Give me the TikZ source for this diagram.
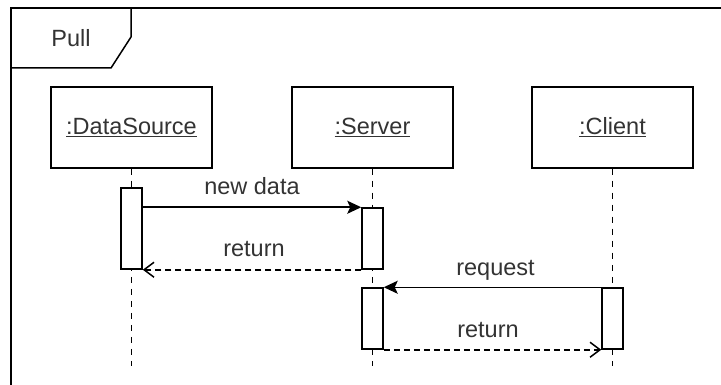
\documentclass[tikz,border=0pt]{standalone}
\usepackage{fontspec}
\setmainfont{Liberation Sans}
\usetikzlibrary{arrows.meta}
\begin{document}
\begin{tikzpicture}[x=1pt,y=-1pt,
  line width=1.5pt,
  every node/.style={font=\fontsize{23.5}{28}\selectfont, text=black!80},
  objbox/.style={draw, fill=white, minimum width=161pt, minimum height=81pt, inner sep=0pt},
  actbox/.style={draw, fill=white, minimum width=21pt, inner sep=0pt},
  lifeline/.style={dash pattern=on 6pt off 6pt},
  callmsg/.style={-{Stealth[length=14pt,width=13pt,inset=3pt]}},
  retmsg/.style={dash pattern=on 6pt off 4pt, -{Straight Barb[length=10pt,width=15pt]}},
  msglabel/.style={anchor=base, inner sep=0pt}
]
\useasboundingbox (0,0) rectangle (721,385);
% frame
\draw (11,385) -- (11,8) -- (721,8);
\draw (11,8) -- (131,8) -- (131,37) -- (111,68) -- (11,68);
\node[inner sep=0pt] (pull) at (71,38) {Pull};

% lifelines
\coordinate (dsend) at (131.5,366);
\coordinate (svend) at (372.5,366);
\coordinate (clend) at (612.5,366);
\node[objbox] (ds) at (131.5,127.5) {\underline{:DataSource}};
\node[objbox] (sv) at (372.5,127.5) {\underline{:Server}};
\node[objbox] (cl) at (612.5,127.5) {\underline{:Client}};
\draw[lifeline] (ds.south) -- (dsend);
\draw[lifeline] (sv.south) -- (svend);
\draw[lifeline] (cl.south) -- (clend);

% activations
\node[actbox, minimum height=81pt] (a1) at (131.5,228.5) {};
\node[actbox, minimum height=61pt] (a2) at (372.5,238.5) {};
\node[actbox, minimum height=61pt] (a3) at (372.5,318.5) {};
\node[actbox, minimum height=61pt] (a4) at (612.5,318.5) {};

% messages
\draw[callmsg] (a1.east |- a2.north west) -- (a2.north west);
\node[msglabel] (l1) at (252,195) {new data};
\draw[retmsg] (a2.south west) -- (a1.south east);
\node[msglabel] (l2) at (254,257) {return};
\draw[callmsg] (a4.north west) -- (a3.north east);
\node[msglabel] (l3) at (495.5,275) {request};
\draw[retmsg] (a3.south east) -- (a4.south west);
\node[msglabel] (l4) at (488,337) {return};
\end{tikzpicture}
\end{document}
